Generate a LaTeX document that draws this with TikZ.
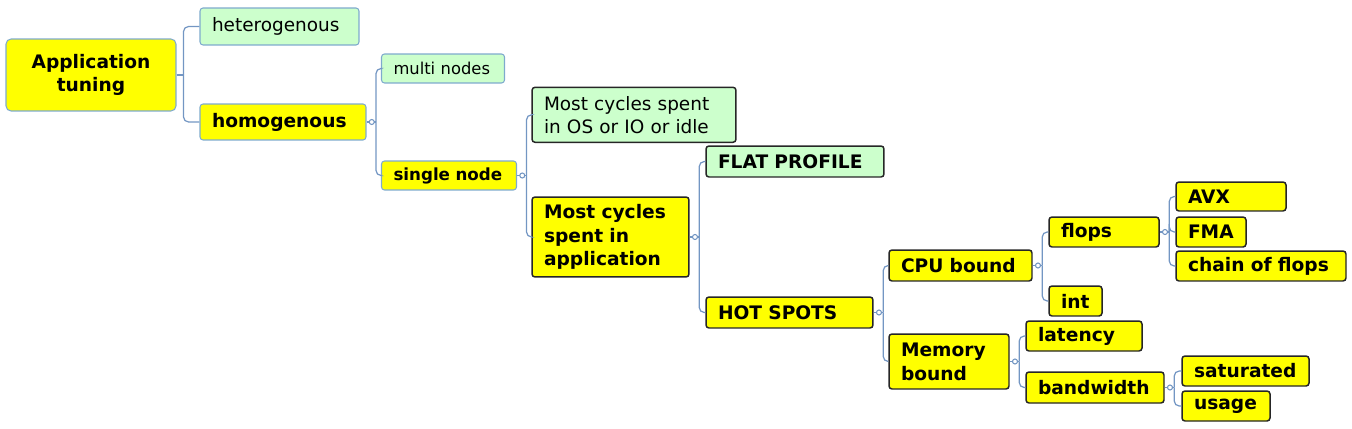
\documentclass[tikz,border=0pt]{standalone}
\usepackage{fontspec}
\setmainfont{DejaVu Sans}
\usepackage{tikz}
\usetikzlibrary{calc}
\definecolor{mmyellow}{RGB}{255,255,0}
\definecolor{mmgreen}{RGB}{204,255,204}
\definecolor{mmblue}{RGB}{126,170,205}
\definecolor{mmdark}{RGB}{38,38,38}
\definecolor{mmlink}{RGB}{115,150,195}

\begin{document}
\begin{tikzpicture}
[x=0.02cm, y=-0.02cm,
 box/.style={rectangle, rounded corners=0.06cm, inner xsep=0.24cm, inner ysep=1pt, align=left, text=black},
 heavy/.style={font=\bfseries\fontsize{10.6}{13.5}\selectfont},
 light/.style={font=\fontsize{10.5}{13}\selectfont},
 topy/.style={box, heavy, fill=mmyellow, draw=mmblue, line width=0.6pt},
 topg/.style={box, light, fill=mmgreen, draw=mmblue, line width=0.6pt},
 ybox/.style={box, heavy, fill=mmyellow, draw=mmdark, line width=0.85pt},
 gbox/.style={box, light, fill=mmgreen, draw=mmdark, line width=0.85pt},
 link/.style={draw=mmlink, line width=0.7pt, rounded corners=0.1cm},
 knob/.style={draw=mmlink, line width=0.6pt, fill=white}]
    \useasboundingbox (0,0) rectangle (1352,429);
    % boxes
    \node[topy, align=center, text width=2.92cm, minimum height=1.44cm, rounded corners=0.1cm] (app) at (91,75) {Application\\tuning};
    \node[topg, text width=2.70cm, minimum height=0.74cm] (het) at (279.5,26.5) {heterogenous};
    \node[topy, text width=2.84cm, minimum height=0.72cm] (hom) at (283,122) {homogenous};
    \node[topg, font=\fontsize{9.3}{12}\selectfont, text width=1.98cm, minimum height=0.58cm] (multi) at (443,68.5) {multi nodes};
    \node[topy, font=\bfseries\fontsize{9.5}{12}\selectfont, text width=2.22cm, minimum height=0.58cm] (single) at (449,175.5) {single node};
    \node[gbox, text width=3.60cm, minimum height=1.10cm] (os) at (634,114.8) {Most cycles spent\\in OS or IO or idle};
    \node[ybox, text width=2.66cm, minimum height=1.60cm] (spent) at (610.5,237) {Most cycles\\spent in\\application};
    \node[gbox, heavy, text width=3.08cm, minimum height=0.62cm] (flat) at (795,161.5) {FLAT PROFILE};
    \node[ybox, text width=2.86cm, minimum height=0.62cm] (hot) at (789.5,312.5) {HOT SPOTS};
    \node[ybox, text width=2.38cm, minimum height=0.62cm] (cpu) at (960.5,265.5) {CPU bound};
    \node[ybox, text width=1.92cm, minimum height=1.10cm] (mem) at (949,361.5) {Memory\\bound};
    \node[ybox, text width=1.72cm, minimum height=0.60cm] (flops) at (1104,232) {flops};
    \node[ybox, text width=0.58cm, minimum height=0.60cm] (int) at (1075.5,301) {int};
    \node[ybox, text width=1.72cm, minimum height=0.58cm] (avx) at (1231,196.5) {AVX};
    \node[ybox, text width=0.92cm, minimum height=0.60cm] (fma) at (1211,232) {FMA};
    \node[ybox, text width=2.92cm, minimum height=0.60cm] (chain) at (1261,266) {chain of flops};
    \node[ybox, text width=1.84cm, minimum height=0.60cm] (lat) at (1084,336) {latency};
    \node[ybox, text width=2.28cm, minimum height=0.62cm] (band) at (1095,387.5) {bandwidth};
    \node[ybox, text width=2.06cm, minimum height=0.60cm] (sat) at (1245.5,371) {saturated};
    \node[ybox, text width=1.28cm, minimum height=0.60cm] (usage) at (1226,406) {usage};
    % junctions
    \coordinate (japp) at ([xshift=0.14cm]app.east);
    \foreach \p in {hom, single, spent, hot, cpu, flops, mem, band}
        \coordinate (j\p) at ([xshift=0.19cm]\p.east);
    % links
    \foreach \p in {app, hom, single, spent, hot, cpu, flops, mem, band}
        \draw[link] (\p.east) -- (j\p);
    \foreach \p/\c in {app/het, app/hom, hom/multi, hom/single, single/os, single/spent,
                       spent/flat, spent/hot, hot/cpu, hot/mem, cpu/flops, cpu/int,
                       flops/avx, flops/fma, flops/chain, mem/lat, mem/band, band/sat, band/usage}
        \draw[link] (j\p) |- (\c.west);
    \foreach \p in {hom, single, spent, hot, cpu, flops, mem, band}
        \draw[knob] ([xshift=0.105cm]\p.east) circle (0.05cm);
\end{tikzpicture}
\end{document}
